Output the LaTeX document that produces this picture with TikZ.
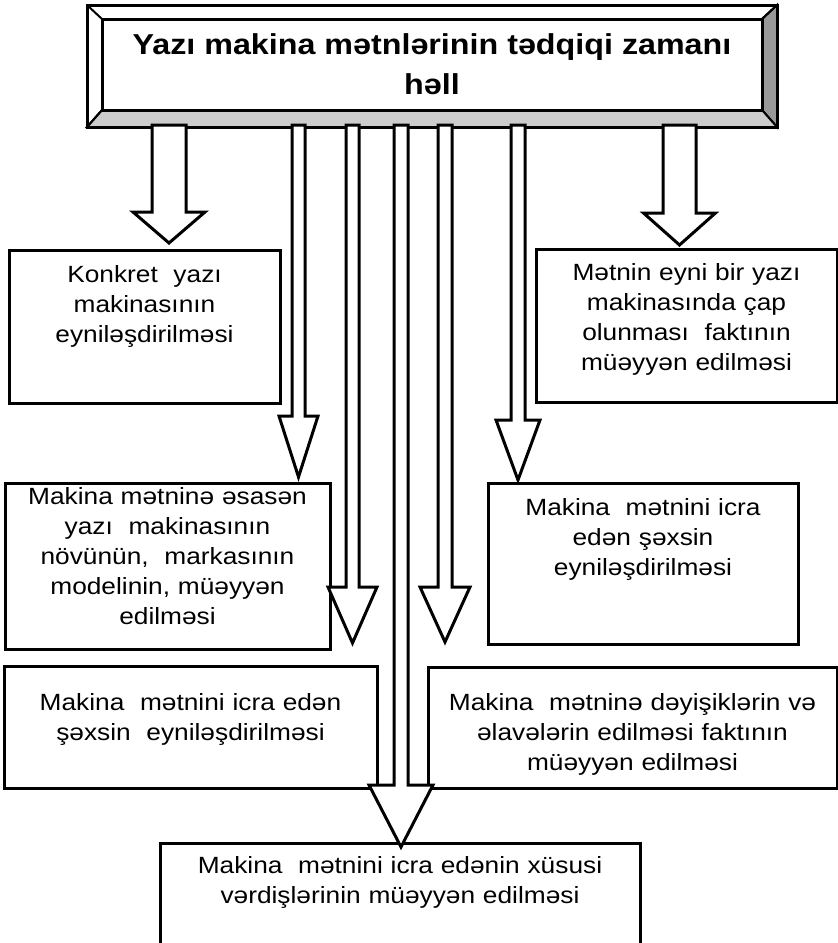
\documentclass[tikz,border=0pt]{standalone}
\usepackage{fontspec}
\setmainfont{Liberation Sans}[FakeStretch=1.12]
\usetikzlibrary{calc,backgrounds}

\begin{document}
\begin{tikzpicture}[x=0.75pt, y=-0.75pt,
  title/.style={draw, fill=white, line width=2.25pt, inner sep=0pt, outer sep=0pt, align=center,
    minimum width=495pt, minimum height=68.25pt, font=\bfseries\fontsize{21.6}{30}\selectfont},
  bevel/.style={draw, line width=1.5pt, line join=miter},
  box/.style={draw, line width=2.25pt, anchor=north, inner sep=0pt, outer sep=0pt, align=center,
    font=\fontsize{17.6}{22.5}\selectfont},
  blockarr/.style={draw, fill=white, line width=2.25pt, line join=miter}]
\useasboundingbox (0,0) rectangle (838,943);
\clip (0,0) rectangle (838,943);

\node[title] (title) at (432,64.5) {Yazı makina mətnlərinin tədqiqi zamanı\\həll};
% raised frame round the title
\begin{scope}[on background layer]
  \coordinate (onw) at ($(title.north west)+(-15,-14)$);
  \coordinate (one) at ($(title.north east)+(15,-14)$);
  \coordinate (ose) at ($(title.south east)+(15,17)$);
  \coordinate (osw) at ($(title.south west)+(-15,17)$);
  \draw[bevel, fill=gray!80] (one) -- (ose) -- (title.south east) -- (title.north east) -- cycle;
  \draw[bevel, fill=gray!40] (osw) -- (ose) -- (title.south east) -- (title.south west) -- cycle;
  \draw[bevel] (onw) -- (title.north west) -- (title.south west) -- (osw);
  \draw[bevel] (one) -- (title.north east);
  \draw[line width=2.25pt] (onw) rectangle (ose);
\end{scope}

\node[box, text width=203.25pt, text height=24pt, text depth=90.75pt] (konkret) at (144.5,250)
  {Konkret~ yazı\\makinasının\\eyniləşdirilməsi};
\node[box, text width=225.75pt, text height=23.25pt, text depth=91.5pt] (eyni) at (686.5,249)
  {Mətnin eyni bir yazı\\makinasında çap\\olunması~ faktının\\müəyyən edilməsi};
\node[box, text width=243.75pt, text height=15.75pt, text depth=108.75pt] (esasen) at (167.5,483)
  {Makina mətninə əsasən\\yazı~ makinasının\\növünün,~ markasının\\modelinin, müəyyən\\edilməsi};
\node[box, text width=232.5pt, text height=24pt, text depth=96.75pt] (icraR) at (643,483)
  {Makina~ mətnini icra\\edən şəxsin\\eyniləşdirilməsi};
\node[box, text width=279.75pt, text height=33pt, text depth=58.5pt] (icraL) at (190.5,666)
  {Makina~ mətnini icra edən\\şəxsin~ eyniləşdirilməsi};
\node[box, text width=306.75pt, text height=32.25pt, text depth=58.5pt] (deyisik) at (632.5,667)
  {Makina~ mətninə dəyişiklərin və\\əlavələrin edilməsi faktının\\müəyyən edilməsi};
\node[box, text width=360pt, text height=22.5pt, text depth=65.25pt] (vardis) at (400,843)
  {Makina~ mətnini icra edənin xüsusi\\vərdişlərinin müəyyən edilməsi};

% block arrows from the title
\draw[blockarr] ($(169,0 |- title.south)+(-17,15)$) -- ($(169,0 |- konkret.north)+(-17,-38)$) -- ++(-19,0) -- ($(169,0 |- konkret.north)+(0,-7)$) -- ++(36,-31) -- ++(-19,0) -- ($(169,0 |- title.south)+(17,15)$) -- cycle;
\draw[blockarr] ($(298.5,0 |- title.south)+(-6.5,15)$) -- ($(298.5,0 |- esasen.north)+(-6.5,-67)$) -- ++(-13,0) -- ($(298.5,0 |- esasen.north)+(0,-6)$) -- ++(19.5,-61) -- ++(-13,0) -- ($(298.5,0 |- title.south)+(6.5,15)$) -- cycle;
\draw[blockarr] ($(352.5,0 |- title.south)+(-6.5,15)$) -- ($(352.5,0 |- icraL.north)+(-6.5,-79)$) -- ++(-18,0) -- ($(352.5,0 |- icraL.north)+(0,-23)$) -- ++(24.5,-56) -- ++(-18,0) -- ($(352.5,0 |- title.south)+(6.5,15)$) -- cycle;
\draw[blockarr] ($(401,0 |- title.south)+(-7,15)$) -- ($(401,0 |- vardis.north)+(-7,-58)$) -- ++(-25,0) -- ($(401,0 |- vardis.north)+(0,4)$) -- ++(32,-62) -- ++(-25,0) -- ($(401,0 |- title.south)+(7,15)$) -- cycle;
\draw[blockarr] ($(445,0 |- title.south)+(-7,15)$) -- ($(445,0 |- deyisik.north)+(-7,-80)$) -- ++(-18,0) -- ($(445,0 |- deyisik.north)+(0,-25)$) -- ++(25,-55) -- ++(-18,0) -- ($(445,0 |- title.south)+(7,15)$) -- cycle;
\draw[blockarr] ($(518,0 |- title.south)+(-7,15)$) -- ($(518,0 |- icraR.north)+(-7,-63)$) -- ++(-15,0) -- ($(518,0 |- icraR.north)+(0,-3)$) -- ++(22,-60) -- ++(-15,0) -- ($(518,0 |- title.south)+(7,15)$) -- cycle;
\draw[blockarr] ($(679.5,0 |- title.south)+(-16.5,15)$) -- ($(679.5,0 |- eyni.north)+(-16.5,-36)$) -- ++(-19.5,0) -- ($(679.5,0 |- eyni.north)+(0,-4)$) -- ++(36,-32) -- ++(-19.5,0) -- ($(679.5,0 |- title.south)+(16.5,15)$) -- cycle;
\end{tikzpicture}
\end{document}
